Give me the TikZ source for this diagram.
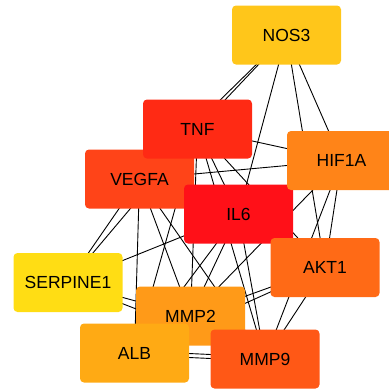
\documentclass[tikz,border=0pt]{standalone}
\usepackage{fontspec}
\setmainfont{Liberation Sans}
\usetikzlibrary{backgrounds}

\definecolor{nosc}{HTML}{FFC61A}
\definecolor{tnfc}{HTML}{FF2A14}
\definecolor{hifc}{HTML}{FF8418}
\definecolor{vegfc}{HTML}{FF4418}
\definecolor{ilc}{HTML}{FF1018}
\definecolor{aktc}{HTML}{FF6A16}
\definecolor{serpc}{HTML}{FFDD14}
\definecolor{mmptwoc}{HTML}{FF9A18}
\definecolor{albc}{HTML}{FFAA14}
\definecolor{mmpninec}{HTML}{FF5816}

\tikzset{gene/.style={rectangle, rounded corners=4pt, minimum width=109pt,
    minimum height=59pt, inner sep=0pt, font=\fontsize{17.5}{20}\selectfont},
  link/.style={black, line width=0.9pt}}

\begin{document}
\begin{tikzpicture}[x=1pt,y=1pt]
  \useasboundingbox (0,0) rectangle (389,-389);

  \node[name=vegfa, gene, fill=vegfc]  at (139.5,-179) {VEGFA};
  \node[name=tnf, gene, fill=tnfc]     at (197.5,-129) {TNF};
  \node[name=il6, gene, fill=ilc]      at (238.5,-214) {IL6};
  \node[name=hif1a, gene, fill=hifc]   at (341.5,-160.5) {HIF1A};
  \node[name=nos3, gene, fill=nosc]    at (286.5,-35) {NOS3};
  \node[name=akt1, gene, fill=aktc]    at (325,-267.5) {AKT1};
  \node[name=serpine1, gene, fill=serpc] at (68,-282.5) {SERPINE1};
  \node[name=mmp2, gene, fill=mmptwoc] at (190.5,-316) {MMP2};
  \node[name=alb, gene, fill=albc]     at (134.5,-353) {ALB};
  \node[name=mmp9, gene, fill=mmpninec] at (265,-359) {MMP9};

  \begin{scope}[on background layer]
  % NOS3
  \draw[link] (nos3.center) -- (tnf.center);
  \draw[link] (nos3.center) -- (vegfa.center);
  \draw[link] (nos3.center) -- (il6.center);
  \draw[link] (nos3.center) -- (akt1.center);
  \draw[link] (nos3.center) -- (hif1a.center);
  % SERPINE1
  \draw[link] (serpine1.center) -- (vegfa.center);
  \draw[link] (serpine1.center) -- (tnf.center);
  \draw[link] (serpine1.center) -- (il6.center);
  \draw[link] (serpine1.center) -- (mmp2.center);
  \draw[link] (serpine1.center) -- (mmp9.center);
  % IL6
  \draw[link] (il6.center) -- (tnf.center);
  \draw[link] (il6.center) -- (vegfa.center);
  \draw[link] (il6.center) -- (hif1a.center);
  \draw[link] (il6.center) -- (akt1.center);
  \draw[link] (il6.center) -- (mmp2.center);
  \draw[link] (il6.center) -- (alb.center);
  \draw[link] (il6.center) -- (mmp9.center);
  % TNF
  \draw[link] (tnf.center) -- (vegfa.center);
  \draw[link] (tnf.center) -- (hif1a.center);
  \draw[link] (tnf.center) -- (akt1.center);
  \draw[link] (tnf.center) -- (mmp2.center);
  \draw[link] (tnf.center) -- (alb.center);
  \draw[link] (tnf.center) -- (mmp9.center);
  % VEGFA
  \draw[link] (vegfa.center) -- (hif1a.center);
  \draw[link] (vegfa.center) -- (akt1.center);
  \draw[link] (vegfa.center) -- (mmp2.center);
  \draw[link] (vegfa.center) -- (alb.center);
  \draw[link] (vegfa.center) -- (mmp9.center);
  % HIF1A, AKT1, ALB
  \draw[link] (hif1a.center) -- (akt1.center);
  \draw[link] (hif1a.center) -- (mmp9.center);
  \draw[link] (hif1a.center) -- (mmp2.center);
  \draw[link] (akt1.center) -- (mmp9.center);
  \draw[link] (akt1.center) -- (mmp2.center);
  \draw[link] (akt1.center) -- (alb.center);
  \draw[link] ([yshift=2pt]alb.center) -- ([yshift=2pt]mmp9.center);
  \draw[link] ([yshift=-2pt]alb.center) -- ([yshift=-2pt]mmp9.center);
  \end{scope}
\end{tikzpicture}
\end{document}
